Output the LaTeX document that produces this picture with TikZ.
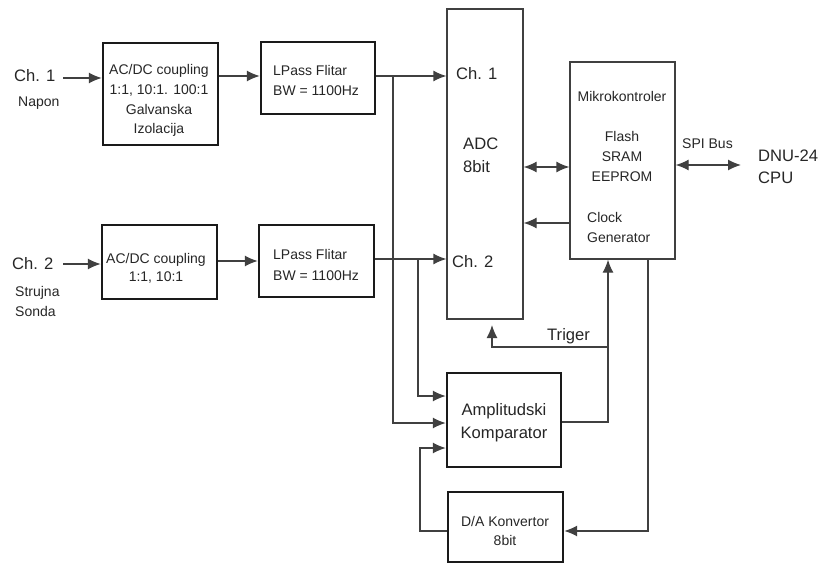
\documentclass[tikz,border=0pt]{standalone}
\usepackage{fontspec}
\setmainfont{Liberation Sans}
\usetikzlibrary{arrows.meta}
\definecolor{txtc}{HTML}{262626}
\definecolor{linec}{HTML}{404040}
\definecolor{boxc}{HTML}{1A1A1A}
\begin{document}
\begin{tikzpicture}[x=1pt,y=-1pt,
  thickbox/.style={draw=boxc, line width=2.4pt, rectangle, inner sep=0pt},
  thinbox/.style={draw=linec, line width=1.3pt, rectangle, inner sep=0pt},
  conn/.style={draw=linec, line width=1.3pt},
  tip/.tip={Latex[length=13pt,width=11pt]},
  arr/.style={conn, -tip},
  darr/.style={conn, tip-tip},
  sm/.style={font=\fontsize{14}{16}\selectfont, text=txtc, inner sep=0pt},
  lg/.style={font=\fontsize{16.6}{19}\selectfont, text=txtc, inner sep=0pt},
]
\useasboundingbox (0,0) rectangle (821,564);

% boxes
\node[thickbox, minimum width=115pt, minimum height=102pt] (acdc1) at (160.5,94) {};
\node[thickbox, minimum width=114pt, minimum height=72pt] (lp1) at (318,78) {};
\node[thickbox, minimum width=115pt, minimum height=74pt] (acdc2) at (159.5,262) {};
\node[thickbox, minimum width=115pt, minimum height=72pt] (lp2) at (316.5,261) {};
\node[thinbox, minimum width=76pt, minimum height=310pt] (adc) at (485,164) {};
\node[thinbox, minimum width=105pt, minimum height=197pt] (mcu) at (622.5,160.5) {};
\node[thickbox, minimum width=114pt, minimum height=94pt] (comp) at (504,420) {};
\node[thickbox, minimum width=115pt, minimum height=70pt] (dac) at (505.5,527) {};

% texts
\node[lg, anchor=base west] (tch1) at (14,82) {Ch. 1};
\node[sm, anchor=base west] (tnapon) at (18,107) {Napon};
\node[lg, anchor=base west] (tch2) at (12,269) {Ch. 2};
\node[sm, anchor=base west] (tstr) at (15,296) {Strujna};
\node[sm, anchor=base west] (tson) at (15,316) {Sonda};

\node[sm, anchor=base] (ta1) at (159,75) {AC/DC coupling};
\node[sm, anchor=base] (ta2) at (159,95) {1:1, 10:1. 100:1};
\node[sm, anchor=base] (ta3) at (159,115) {Galvanska};
\node[sm, anchor=base] (ta4) at (159,134) {Izolacija};

\node[sm, anchor=base west] (tl1) at (273,76) {LPass Flitar};
\node[sm, anchor=base west] (tl2) at (273,96) {BW = 1100Hz};

\node[sm, anchor=base] (tb1) at (156,263) {AC/DC coupling};
\node[sm, anchor=base] (tb2) at (156,281) {1:1, 10:1};

\node[sm, anchor=base west] (tm1) at (273,259) {LPass Flitar};
\node[sm, anchor=base west] (tm2) at (273,280) {BW = 1100Hz};

\node[lg, anchor=base west] (tadc1) at (456,80) {Ch. 1};
\node[lg, anchor=base west] (tadc2) at (452,267) {Ch. 2};
\node[lg, anchor=base west] (tadc3) at (463,150) {ADC};
\node[lg, anchor=base west] (tadc4) at (463,172) {8bit};

\node[sm, anchor=base] (tmc1) at (622,102) {Mikrokontroler};
\node[sm, anchor=base] (tmc2) at (622,142) {Flash};
\node[sm, anchor=base] (tmc3) at (622,162) {SRAM};
\node[sm, anchor=base] (tmc4) at (622,182) {EEPROM};
\node[sm, anchor=base west] (tmc5) at (587,222) {Clock};
\node[sm, anchor=base west] (tmc6) at (587,242) {Generator};

\node[sm, anchor=base west] (tspi) at (682,149) {SPI Bus};
\node[lg, anchor=base west] (tcpu1) at (758,162) {DNU-24};
\node[lg, anchor=base west] (tcpu2) at (758,183) {CPU};

\node[lg, anchor=base west] (ttrig) at (547,340) {Triger};
\node[lg, anchor=base] (tcmp1) at (504,415) {Amplitudski};
\node[lg, anchor=base] (tcmp2) at (504,438) {Komparator};
\node[sm, anchor=base] (tda1) at (505,526) {D/A Konvertor};
\node[sm, anchor=base] (tda2) at (505,545) {8bit};

% coordinates
\coordinate (c1in) at (63,78);
\coordinate (c2in) at (63,264);
\coordinate (y1) at (0,76);
\coordinate (y2) at (0,259);
\coordinate (j1) at (393,76);
\coordinate (j2) at (418,259);
\coordinate (k1) at (420,531);
\coordinate (t) at (608,347);
\coordinate (trg) at (492,325);
\coordinate (spiend) at (741,165);

% connectors
\draw[arr] (c1in) -- (acdc1.west |- c1in);
\draw[arr] (acdc1.east |- y1) -- (lp1.west |- y1);
\draw[arr] (lp1.east |- y1) -- (adc.west |- y1);
\draw[arr] (j1) |- (comp.west |- 0,423);

\draw[arr] (c2in) -- (acdc2.west |- c2in);
\draw[arr] (acdc2.east |- 0,261) -- (lp2.west |- 0,261);
\draw[arr] (lp2.east |- y2) -- (adc.west |- y2);
\draw[arr] (j2) |- (comp.west |- 0,396);

\draw[arr] (dac.west |- k1) -- (k1) |- (comp.west |- 0,448);

\draw[darr] (adc.east |- 0,167) -- (mcu.west |- 0,167);
\draw[arr] (mcu.west |- 0,223) -- (adc.east |- 0,223);
\draw[darr] (mcu.east |- spiend) -- (spiend);

\draw[arr] (comp.east |- 0,422) -| (mcu.south -| t);
\draw[arr] (t) -| (trg);
\draw[arr] (mcu.south -| 648,0) |- (dac.east |- k1);
\end{tikzpicture}
\end{document}
